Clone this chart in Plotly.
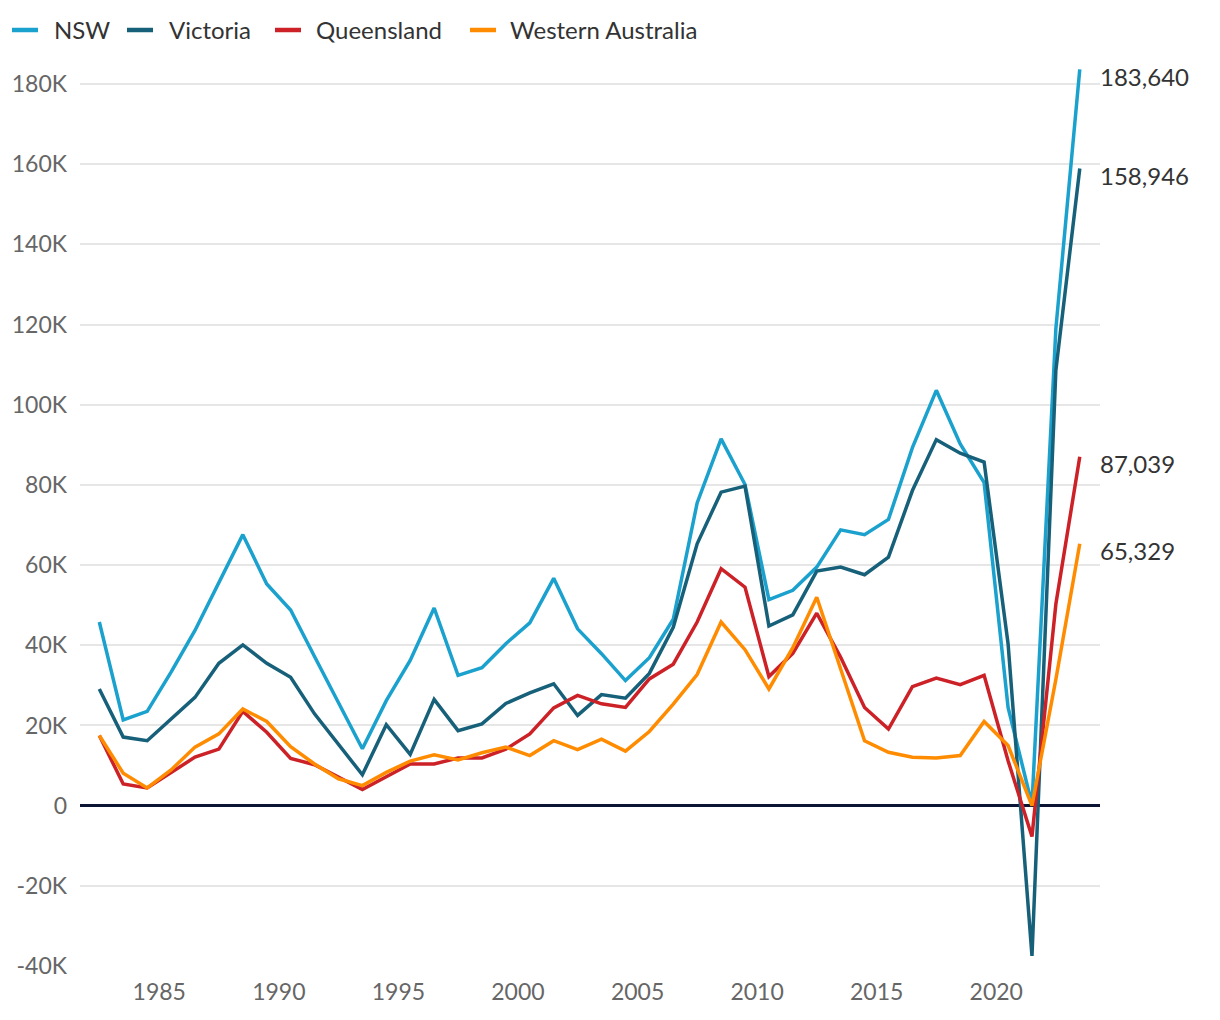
import plotly.graph_objects as go

years = list(range(1982, 2024))

nsw = [45.8, 21.4, 23.5, 33.3, 43.7, 55.7, 67.6, 55.3, 48.8, 37.2,
       25.6, 14.2, 26.2, 36.2, 49.3, 32.5, 34.4, 40.4, 45.6, 56.7,
       44.1, 37.9, 31.2, 36.9, 46.5, 75.5, 91.5, 80.1, 51.4, 53.7,
       59.5, 68.8, 67.6, 71.4, 89.3, 103.6, 90.2, 80.6, 24.5, 0.3,
       119.0, 183.640]
victoria = [29.1, 17.1, 16.2, 21.6, 27.0, 35.5, 40.1, 35.5, 32.0, 22.9,
            15.4, 7.7, 20.2, 12.8, 26.5, 18.7, 20.4, 25.5, 28.1, 30.4,
            22.5, 27.7, 26.8, 33.0, 44.5, 65.3, 78.2, 79.7, 44.8, 47.6,
            58.5, 59.5, 57.6, 62.0, 78.6, 91.3, 87.9, 85.7, 40.4, -37.5,
            108.6, 158.946]
queensland = [17.5, 5.4, 4.4, 8.3, 12.1, 14.1, 23.5, 18.3, 11.8, 10.2,
              7.1, 4.0, 7.2, 10.4, 10.4, 11.9, 11.9, 14.1, 17.9, 24.4,
              27.5, 25.4, 24.5, 31.6, 35.3, 45.8, 59.1, 54.5, 32.2, 38.0,
              48.0, 37.0, 24.5, 19.1, 29.7, 31.8, 30.2, 32.5, 11.2, -7.7,
              50.3, 87.039]
western_australia = [17.5, 8.1, 4.4, 8.9, 14.6, 17.9, 24.1, 21.0, 14.7, 10.4,
                     6.7, 5.0, 8.3, 11.1, 12.7, 11.4, 13.2, 14.6, 12.5, 16.2,
                     14.0, 16.6, 13.6, 18.5, 25.3, 32.7, 45.8, 38.9, 29.1, 39.4,
                     52.0, 34.0, 16.2, 13.3, 12.1, 11.9, 12.5, 21.0, 15.0, 0.0,
                     31.5, 65.329]

series_names = ["NSW", "Victoria", "Queensland", "Western Australia"]
series_values = [nsw, victoria, queensland, western_australia]
colors = ["#1ba1cd", "#17607a", "#cc2127", "#ff8c00"]

y_tick_vals = [-40000, -20000, 0, 20000, 40000, 60000, 80000, 100000,
               120000, 140000, 160000, 180000]
y_tick_text = ["-40K", "-20K", "0", "20K", "40K", "60K", "80K", "100K",
               "120K", "140K", "160K", "180K"]

dates = [f"{y}-06-30" for y in years]
FONT = "Lato"

# plot area in page pixels (page has an 8px body margin)
W, H = 1212, 1012
ML, MR, MT, MB = 72, 120, 58, 54
PX0, PX1 = 8 + ML, 8 + W - MR
PY0, PY1 = 8 + MT, 8 + H - MB


def px_to_paper_x(px):
    return (px - PX0) / (PX1 - PX0)


def py_to_paper_y(py):
    return (PY1 - py) / (PY1 - PY0)


fig = go.Figure()
for name, vals, c in zip(series_names, series_values, colors):
    yv = [v * 1000 for v in vals]
    fig.add_trace(go.Scatter(x=dates, y=yv, mode="lines", name=name,
                             line=dict(color=c, width=3.5), showlegend=False))

# end-of-line value labels
for vals in series_values:
    fig.add_annotation(x=dates[-1], y=vals[-1] * 1000, text=f"{round(vals[-1]*1000):,}",
                       showarrow=False, xanchor="left", yanchor="middle",
                       xshift=18, yshift=-7,
                       font=dict(family=FONT, size=24, color="#333333"))

# legend drawn at the top
legend_sym_x = [10, 125, 273, 468]
legend_txt_x = [52, 167, 314, 508]
legend_y = 30
for name, c, sx, tx in zip(series_names, colors, legend_sym_x, legend_txt_x):
    fig.add_shape(type="line", xref="paper", yref="paper",
                  x0=px_to_paper_x(sx + 2), x1=px_to_paper_x(sx + 28),
                  y0=py_to_paper_y(legend_y), y1=py_to_paper_y(legend_y),
                  line=dict(color=c, width=4.5))
    fig.add_annotation(xref="paper", yref="paper", x=px_to_paper_x(tx),
                       y=py_to_paper_y(legend_y), text=name, showarrow=False,
                       xanchor="left", yanchor="middle",
                       font=dict(family=FONT, size=24, color="#333333"))

fig.update_layout(
    width=W, height=H,
    margin=dict(l=ML, r=MR, t=MT, b=MB, autoexpand=False),
    paper_bgcolor="white", plot_bgcolor="white",
    font=dict(family=FONT, size=22, color="#666666"),
    showlegend=False,
    xaxis=dict(type="date", range=["1981-09-08", "2024-05-04"],
               tick0="1985-01-01", dtick="M60", tickformat="%Y",
               showgrid=False, zeroline=False, showline=False, automargin=False,
               ticks="", ticklabelstandoff=10,
               tickfont=dict(family=FONT, size=23, color="#666666")),
    yaxis=dict(range=[-40000, 184500], tickvals=y_tick_vals, ticktext=y_tick_text,
               showgrid=True, gridcolor="#e6e6e6", gridwidth=1.5,
               zeroline=True, zerolinecolor="#0b1533", zerolinewidth=3,
               automargin=False,
               ticks="", ticklabelstandoff=12,
               tickfont=dict(family=FONT, size=23, color="#666666")),
)

fig.write_html("out.html")
